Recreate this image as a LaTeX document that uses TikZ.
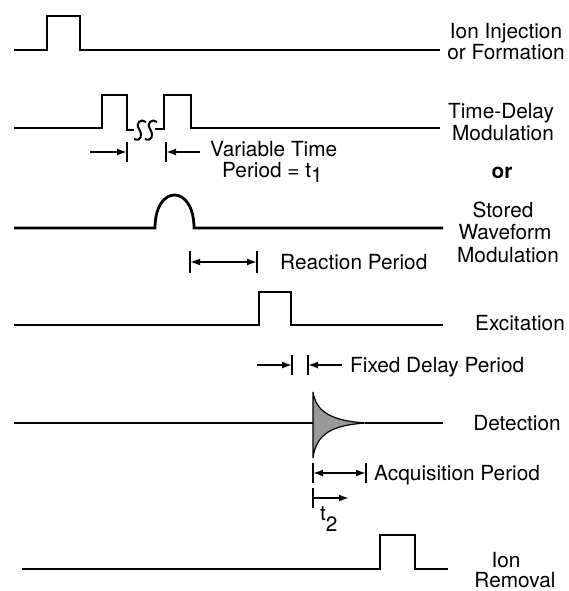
\documentclass[tikz,border=0pt]{standalone}
\usepackage{fontspec}
\setmainfont{TeX Gyre Heros}
\usetikzlibrary{arrows.meta}
\begin{document}
\begin{tikzpicture}[x=1pt,y=-1pt,
  wave/.style={line width=2.8pt, line join=miter},
  brk/.style={line width=2pt},
  tickmark/.style={line width=2.6pt},
  dimline/.style={line width=1.7pt},
  tipr/.style={-{Latex[length=10pt,width=7pt]}},
  tipb/.style={{Latex[length=10pt,width=7pt]}-{Latex[length=10pt,width=7pt]}},
  lbl/.style={font=\fontsize{20.8}{22}\selectfont, inner sep=0pt, anchor=base},
  side/.style={font=\fontsize{20.8}{22}\selectfont, inner sep=0pt, anchor=base west},
]
\useasboundingbox (0,0) rectangle (569,591);

% ---------- waveforms ----------
% Ion injection
\draw[wave] (14,50) -| (47,16) -| (80,50) -- (440,50);
% Time-delay modulation
\draw[wave] (14,128) -| (102,95) -| (127,130) -- (134,130);
\draw[brk] (146,122) .. controls (141,118) and (135,123) .. (139,129)
           .. controls (143,135) and (141,142) .. (134,139);
\draw[brk] (157,122) .. controls (152,118) and (146,123) .. (150,129)
           .. controls (154,135) and (152,142) .. (145,139);
\draw[wave] (155,129) -| (164,95) -| (191,128) -- (440,128);
% Stored waveform
\draw[wave] (14,228) -- (155,228) .. controls (155,184) and (194,184) .. (194,228) -- (443,228);
% Excitation
\draw[wave] (14,325) -| (259,292) -| (291,325) -- (443,325);
% Detection
\draw[wave] (14,423) -- (313,423);
\filldraw[fill=black!40, draw=black, line width=1.2pt]
  (313,392) .. controls (316,412) and (332,421) .. (366,423)
  .. controls (332,425) and (316,434) .. (313,458) -- cycle;
\draw[wave] (365,423) -- (443,423);
% Ion removal
\draw[wave] (22,569) -| (380,535) -| (415,569) -- (448,569);

% ---------- dimension marks ----------
\coordinate (v1) at (127,152);
\coordinate (v2) at (166,152);
\draw[tickmark] ([yshift=10pt]v1) -- ([yshift=-10pt]v1);
\draw[tickmark] ([yshift=10pt]v2) -- ([yshift=-10pt]v2);
\draw[dimline,tipr] ([xshift=-37pt]v1) -- (v1);
\draw[dimline,tipr] ([xshift=34pt]v2) -- (v2);

\coordinate (r1) at (190,262);
\coordinate (r2) at (257,262);
\draw[tickmark] ([yshift=11pt]r1) -- ([yshift=-11pt]r1);
\draw[tickmark] ([yshift=11pt]r2) -- ([yshift=-11pt]r2);
\draw[dimline,tipb] (r1) -- (r2);

\coordinate (f1) at (292,365);
\coordinate (f2) at (308,365);
\draw[tickmark] ([yshift=10pt]f1) -- ([yshift=-10pt]f1);
\draw[tickmark] ([yshift=10pt]f2) -- ([yshift=-10pt]f2);
\draw[dimline,tipr] ([xshift=-35pt]f1) -- (f1);
\draw[dimline,tipr] ([xshift=34pt]f2) -- (f2);

\coordinate (q1) at (313,473);
\coordinate (q2) at (366,473);
\draw[tickmark] ([yshift=10pt]q1) -- ([yshift=-10pt]q1);
\draw[tickmark] ([yshift=10pt]q2) -- ([yshift=-10pt]q2);
\draw[dimline,tipb] (q1) -- (q2);

\coordinate (s1) at (313,498);
\coordinate (s2) at (349,498);
\draw[tickmark] ([yshift=10pt]s1) -- ([yshift=-10pt]s1);
\draw[dimline,tipr] (s1) -- (s2);

% ---------- labels ----------
\node[lbl] (ion1) at (506,39) {Ion Injection};
\node[lbl] (ion2) at (506,60) {or Formation};
\node[lbl] (td1) at (501,119) {Time-Delay};
\node[lbl] (td2) at (503,140) {Modulation};
\node[lbl,font=\fontsize{20.8}{22}\selectfont\bfseries] (or) at (502,178) {or};
\node[lbl] (sw1) at (503,217) {Stored};
\node[lbl] (sw2) at (505,239) {Waveform};
\node[lbl] (sw3) at (508,262) {Modulation};
\node[lbl] (exc) at (520,330) {Excitation};
\node[lbl] (det) at (517,430) {Detection};
\node[lbl] (ir1) at (506,567) {Ion};
\node[lbl] (ir2) at (515,587) {Removal};

\node[side] (vt1) at (210,156) {Variable Time};
\node[side] (vt2) at (222,177) {Period = t\raisebox{-5pt}{1}};
\node[side] (rp) at (280,269) {Reaction Period};
\node[side] (fd) at (350,372) {Fixed Delay Period};
\node[side] (ap) at (374,480) {Acquisition Period};
\node[side] (t2) at (320,520) {t\raisebox{-11pt}{2}};
\end{tikzpicture}
\end{document}
